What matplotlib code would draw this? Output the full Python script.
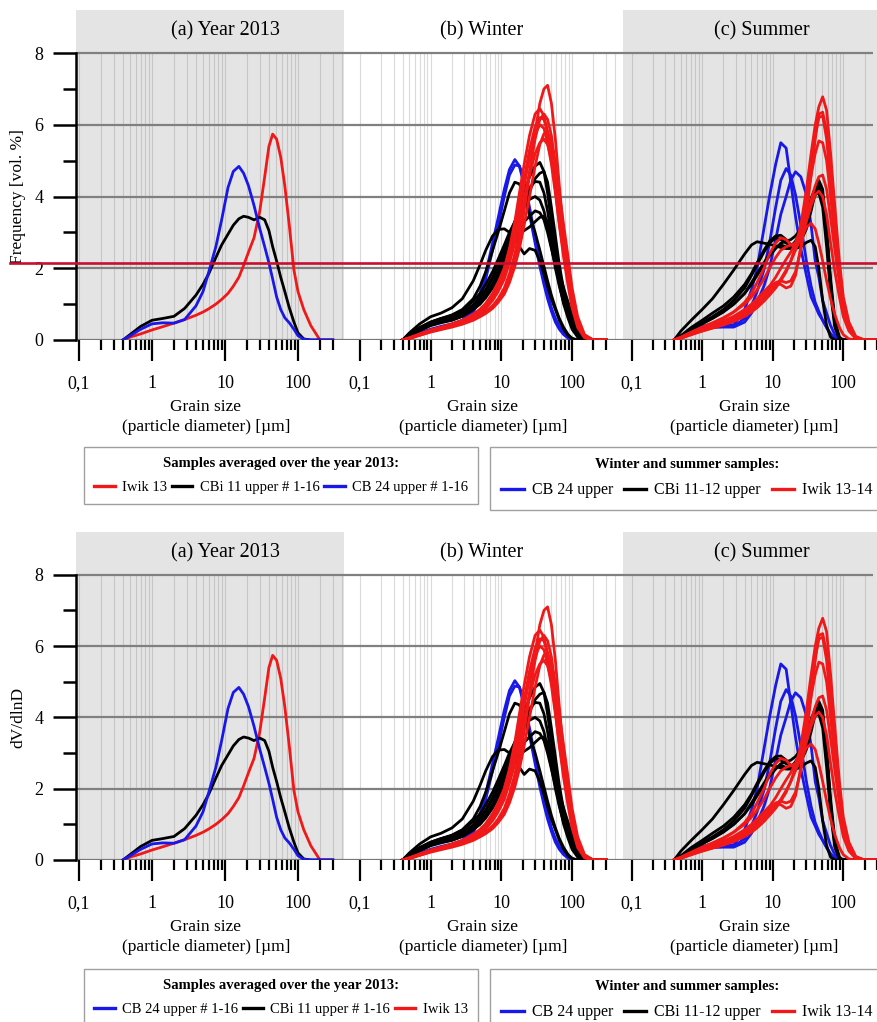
import numpy as np
import matplotlib.pyplot as plt
import matplotlib.transforms as mtransforms
from matplotlib.lines import Line2D
from matplotlib.ticker import NullFormatter

plt.rcParams['font.family'] = ['Liberation Serif', 'DejaVu Serif']

# ---------------- DATA ----------------
# common grain-size grid [µm]
grain = [0.4, 0.5, 0.7, 1, 1.4, 2, 2.8, 4, 5, 6, 7.5, 9, 11, 13, 15.5, 18,
         21, 25, 30, 35, 40, 45, 51, 58, 66, 76, 88, 100, 120, 150, 200, 300]

# (a) year 2013 averages
year_iwik13 = [0.0, 0.08, 0.17, 0.28, 0.37, 0.47, 0.57, 0.69, 0.78, 0.87,
               1.0, 1.13, 1.3, 1.5, 1.75, 2.08, 2.45, 2.85, 3.6, 4.55,
               5.4, 5.74, 5.6, 5.1, 4.3, 3.2, 1.95, 1.35, 0.85, 0.4, 0.0, 0.0]
year_cbi11 = [0.0, 0.15, 0.38, 0.55, 0.6, 0.66, 0.88, 1.25, 1.55, 1.85,
              2.3, 2.65, 2.95, 3.2, 3.38, 3.45, 3.42, 3.35, 3.42, 3.35,
              3.05, 2.6, 2.2, 1.75, 1.35, 0.9, 0.5, 0.2, 0.03, 0.0, 0.0, 0.0]
year_cb24 = [0.0, 0.12, 0.3, 0.45, 0.48, 0.47, 0.57, 0.95, 1.35, 1.9,
             2.6, 3.35, 4.25, 4.7, 4.84, 4.65, 4.3, 3.75, 3.1, 2.6,
             2.15, 1.7, 1.2, 0.85, 0.62, 0.48, 0.3, 0.12, 0.02, 0.0, 0.0, 0.0]

# (b) winter samples
winter_cb24 = [
    [0.0, 0.08, 0.2, 0.3, 0.38, 0.45, 0.55, 0.85, 1.3, 1.85,
     2.7, 3.4, 4.2, 4.75, 5.03, 4.85, 4.3, 3.5, 2.7, 2.05,
     1.55, 1.15, 0.8, 0.5, 0.3, 0.15, 0.05, 0.0, 0.0, 0.0, 0.0, 0.0],
    [0.0, 0.07, 0.18, 0.28, 0.36, 0.43, 0.52, 0.78, 1.15, 1.7,
     2.5, 3.2, 4.0, 4.6, 4.88, 4.85, 4.45, 3.7, 2.9, 2.25,
     1.7, 1.3, 0.9, 0.6, 0.38, 0.2, 0.08, 0.02, 0.0, 0.0, 0.0, 0.0],
]
winter_cbi = [
    [0.0, 0.15, 0.35, 0.5, 0.6, 0.7, 0.85, 1.15, 1.5, 1.9,
     2.5, 3.0, 3.6, 4.1, 4.4, 4.35, 4.0, 3.5, 3.0, 2.5,
     2.05, 1.65, 1.25, 0.9, 0.6, 0.35, 0.15, 0.05, 0.0, 0.0, 0.0, 0.0],
    [0.0, 0.2, 0.45, 0.65, 0.75, 0.9, 1.15, 1.65, 2.1, 2.5,
     2.9, 3.08, 3.1, 3.0, 2.85, 2.6, 2.4, 2.55, 2.5, 2.2,
     1.85, 1.5, 1.15, 0.85, 0.55, 0.3, 0.12, 0.03, 0.0, 0.0, 0.0, 0.0],
    [0.0, 0.12, 0.3, 0.45, 0.52, 0.6, 0.7, 0.9, 1.05, 1.25,
     1.55, 1.85, 2.25, 2.7, 3.2, 3.65, 4.1, 4.55, 4.85, 4.95,
     4.7, 4.1, 3.3, 2.5, 1.8, 1.2, 0.75, 0.45, 0.15, 0.02, 0.0, 0.0],
    [0.0, 0.1, 0.28, 0.42, 0.5, 0.56, 0.66, 0.85, 1.0, 1.18,
     1.45, 1.75, 2.1, 2.5, 2.95, 3.35, 3.75, 4.15, 4.5, 4.65,
     4.7, 4.4, 3.7, 2.9, 2.1, 1.4, 0.9, 0.55, 0.2, 0.03, 0.0, 0.0],
    [0.0, 0.13, 0.32, 0.48, 0.56, 0.64, 0.76, 0.98, 1.18, 1.4,
     1.75, 2.1, 2.5, 2.9, 3.3, 3.65, 3.95, 4.25, 4.42, 4.4,
     4.1, 3.6, 2.9, 2.2, 1.55, 1.0, 0.6, 0.3, 0.08, 0.0, 0.0, 0.0],
    [0.0, 0.14, 0.34, 0.5, 0.6, 0.68, 0.82, 1.08, 1.3, 1.55,
     1.9, 2.25, 2.65, 3.0, 3.3, 3.55, 3.75, 3.92, 4.0, 3.9,
     3.6, 3.15, 2.6, 2.0, 1.5, 1.05, 0.7, 0.45, 0.18, 0.03, 0.0, 0.0],
    [0.0, 0.12, 0.3, 0.44, 0.52, 0.6, 0.72, 0.95, 1.15, 1.38,
     1.7, 2.0, 2.35, 2.7, 2.95, 3.15, 3.3, 3.45, 3.6, 3.55,
     3.35, 3.0, 2.55, 2.1, 1.7, 1.3, 0.95, 0.62, 0.25, 0.05, 0.0, 0.0],
    [0.0, 0.1, 0.26, 0.4, 0.48, 0.55, 0.66, 0.86, 1.05, 1.25,
     1.55, 1.85, 2.2, 2.5, 2.75, 2.95, 3.05, 3.15, 3.3, 3.42,
     3.45, 3.3, 2.9, 2.4, 1.9, 1.45, 1.05, 0.7, 0.3, 0.05, 0.0, 0.0],
]
winter_iwik = [
    [0.0, 0.05, 0.15, 0.25, 0.32, 0.4, 0.48, 0.6, 0.7, 0.8,
     0.95, 1.1, 1.35, 1.7, 2.2, 2.8, 3.6, 4.6, 5.8, 6.6,
     7.0, 7.1, 6.6, 5.6, 4.3, 3.0, 1.9, 1.1, 0.45, 0.1, 0.0, 0.0],
    [0.0, 0.06, 0.16, 0.27, 0.35, 0.43, 0.53, 0.68, 0.82, 0.98,
     1.25, 1.55, 2.0, 2.55, 3.3, 4.1, 4.9, 5.7, 6.3, 6.45,
     6.25, 5.8, 5.1, 4.2, 3.2, 2.3, 1.5, 0.9, 0.35, 0.06, 0.0, 0.0],
    [0.0, 0.05, 0.14, 0.24, 0.31, 0.38, 0.46, 0.58, 0.68, 0.78,
     0.95, 1.15, 1.45, 1.85, 2.4, 3.0, 3.8, 4.7, 5.6, 6.15,
     6.3, 6.15, 5.7, 4.9, 3.9, 2.9, 1.95, 1.2, 0.5, 0.1, 0.0, 0.0],
    [0.0, 0.06, 0.17, 0.28, 0.36, 0.45, 0.55, 0.72, 0.86, 1.02,
     1.3, 1.6, 2.0, 2.5, 3.1, 3.8, 4.5, 5.3, 5.95, 6.2,
     6.15, 5.8, 5.2, 4.4, 3.5, 2.6, 1.75, 1.05, 0.4, 0.08, 0.0, 0.0],
    [0.0, 0.05, 0.15, 0.26, 0.34, 0.42, 0.51, 0.66, 0.8, 0.95,
     1.2, 1.48, 1.85, 2.3, 2.9, 3.55, 4.3, 5.1, 5.75, 6.0,
     5.9, 5.5, 4.9, 4.1, 3.25, 2.45, 1.7, 1.05, 0.42, 0.08, 0.0, 0.0],
    [0.0, 0.04, 0.13, 0.22, 0.29, 0.36, 0.44, 0.55, 0.65, 0.74,
     0.88, 1.05, 1.28, 1.6, 2.05, 2.55, 3.2, 4.0, 4.85, 5.45,
     5.75, 5.8, 5.5, 4.9, 4.1, 3.2, 2.3, 1.45, 0.65, 0.15, 0.0, 0.0],
    [0.0, 0.05, 0.14, 0.24, 0.31, 0.39, 0.48, 0.62, 0.75, 0.88,
     1.1, 1.35, 1.7, 2.15, 2.7, 3.3, 3.95, 4.6, 5.2, 5.5,
     5.6, 5.45, 5.05, 4.4, 3.6, 2.75, 1.95, 1.25, 0.55, 0.12, 0.0, 0.0],
]

# (c) summer samples
summer_cb24 = [
    [0.0, 0.1, 0.25, 0.38, 0.45, 0.45, 0.42, 0.85, 1.4, 2.0,
     3.1, 4.0, 4.9, 5.5, 5.35, 4.4, 3.45, 2.55, 1.8, 1.2,
     0.95, 0.72, 0.55, 0.35, 0.18, 0.05, 0.0, 0.0, 0.0, 0.0, 0.0, 0.0],
    [0.0, 0.09, 0.22, 0.34, 0.4, 0.4, 0.38, 0.6, 0.95, 1.35,
     1.95, 2.7, 3.7, 4.45, 4.78, 4.6, 4.05, 3.2, 2.2, 1.5,
     1.05, 0.8, 0.55, 0.35, 0.15, 0.03, 0.0, 0.0, 0.0, 0.0, 0.0, 0.0],
    [0.0, 0.08, 0.2, 0.3, 0.35, 0.36, 0.36, 0.5, 0.75, 1.05,
     1.5, 2.0, 2.8, 3.5, 4.0, 4.45, 4.69, 4.55, 4.05, 3.2,
     2.2, 1.75, 1.1, 0.75, 0.4, 0.15, 0.02, 0.0, 0.0, 0.0, 0.0, 0.0],
]
summer_cbi = [
    [0.0, 0.25, 0.55, 0.85, 1.15, 1.55, 1.95, 2.4, 2.65, 2.74,
     2.7, 2.67, 2.62, 2.58, 2.55, 2.55, 2.55, 2.6, 2.72, 2.78,
     2.6, 2.0, 1.1, 0.4, 0.08, 0.0, 0.0, 0.0, 0.0, 0.0, 0.0, 0.0],
    [0.0, 0.12, 0.35, 0.55, 0.75, 0.95, 1.2, 1.55, 1.85, 2.15,
     2.5, 2.75, 2.9, 2.92, 2.8, 2.65, 2.6, 2.75, 3.1, 3.6,
     4.1, 4.45, 4.2, 3.0, 1.5, 0.4, 0.05, 0.0, 0.0, 0.0, 0.0, 0.0],
    [0.0, 0.1, 0.3, 0.48, 0.65, 0.85, 1.1, 1.45, 1.8, 2.1,
     2.45, 2.7, 2.85, 2.8, 2.7, 2.65, 2.7, 2.95, 3.35, 3.8,
     4.1, 4.2, 4.0, 3.1, 1.7, 0.55, 0.08, 0.0, 0.0, 0.0, 0.0, 0.0],
    [0.0, 0.1, 0.28, 0.45, 0.6, 0.78, 1.0, 1.3, 1.6, 1.85,
     2.15, 2.4, 2.6, 2.65, 2.6, 2.6, 2.75, 3.0, 3.4, 3.8,
     4.05, 4.1, 3.7, 2.6, 1.3, 0.35, 0.03, 0.0, 0.0, 0.0, 0.0, 0.0],
    [0.0, 0.11, 0.3, 0.46, 0.62, 0.8, 1.0, 1.3, 1.55, 1.8,
     2.1, 2.35, 2.55, 2.7, 2.75, 2.8, 2.9, 3.1, 3.5, 3.95,
     4.25, 4.3, 4.0, 3.0, 1.6, 0.45, 0.05, 0.0, 0.0, 0.0, 0.0, 0.0],
]
summer_iwik = [
    [0.0, 0.05, 0.15, 0.25, 0.33, 0.42, 0.52, 0.66, 0.78, 0.9,
     1.08, 1.25, 1.45, 1.65, 1.9, 2.2, 2.6, 3.2, 4.2, 5.2,
     6.0, 6.5, 6.78, 6.4, 5.2, 3.7, 2.2, 1.2, 0.5, 0.1, 0.0, 0.0],
    [0.0, 0.06, 0.17, 0.28, 0.37, 0.47, 0.58, 0.74, 0.88, 1.0,
     1.2, 1.4, 1.6, 1.65, 1.6, 1.65, 1.9, 2.5, 3.5, 4.6,
     5.6, 6.3, 6.35, 5.8, 4.6, 3.2, 1.9, 1.0, 0.4, 0.08, 0.0, 0.0],
    [0.0, 0.07, 0.2, 0.32, 0.42, 0.53, 0.66, 0.85, 1.0, 1.15,
     1.35, 1.5, 1.58, 1.55, 1.45, 1.5, 1.8, 2.6, 3.7, 4.8,
     5.7, 6.2, 6.25, 5.6, 4.4, 3.0, 1.75, 0.95, 0.38, 0.07, 0.0, 0.0],
    [0.0, 0.06, 0.18, 0.3, 0.4, 0.5, 0.62, 0.8, 0.95, 1.1,
     1.3, 1.5, 1.75, 2.0, 2.25, 2.45, 2.7, 3.1, 3.8, 4.6,
     5.2, 5.55, 5.5, 5.0, 4.0, 2.85, 1.75, 0.95, 0.38, 0.07, 0.0, 0.0],
    [0.0, 0.05, 0.15, 0.25, 0.34, 0.43, 0.53, 0.68, 0.8, 0.92,
     1.1, 1.3, 1.5, 1.7, 1.95, 2.2, 2.5, 2.9, 3.4, 3.9,
     4.3, 4.55, 4.6, 4.2, 3.4, 2.5, 1.6, 0.9, 0.35, 0.06, 0.0, 0.0],
    [0.0, 0.08, 0.22, 0.36, 0.48, 0.62, 0.78, 1.0, 1.2, 1.4,
     1.7, 2.0, 2.3, 2.5, 2.6, 2.65, 2.7, 2.9, 3.3, 3.75,
     4.05, 4.15, 4.0, 3.5, 2.7, 1.9, 1.2, 0.65, 0.25, 0.04, 0.0, 0.0],
    [0.0, 0.07, 0.2, 0.33, 0.45, 0.6, 0.78, 1.05, 1.3, 1.6,
     2.0, 2.4, 2.7, 2.85, 2.8, 2.65, 2.6, 2.8, 3.15, 3.25,
     3.1, 2.7, 2.2, 1.65, 1.15, 0.7, 0.35, 0.15, 0.03, 0.0, 0.0, 0.0],
]

panel_titles = ["(a) Year 2013", "(b) Winter", "(c) Summer"]
major_ticks = [0.1, 1, 10, 100]
major_labels = ["0,1", "1", "10", "100"]
ref_level = 2.14   # horizontal marker line in the upper chart

# ---------------- STYLE ----------------
RED, BLUE, BLACK = '#f01818', '#1818e8', 'black'
W, H = 877, 1022
panel_px = [(76, 344), (344, 622.7), (622.7, 877)]
panel_xlim = [(0.091, 427), (0.0594, 520), (0.0749, 264)]
panel_bg = ['#e4e4e4', 'white', '#e4e4e4']
vline_col = ['#c6c6c6', '#dadada', '#c6c6c6']
title_x = [0.556, 0.494, 0.547]
YTOP = 9.2

minor_ticks = [n * 10.0 ** k for k in range(-1, 3) for n in range(2, 10)
               if n * 10.0 ** k <= 300]
vgrid = [n * 10.0 ** k for k in range(-1, 3) for n in range(1, 10)
         if n * 10.0 ** k <= 400]

fig = plt.figure(figsize=(W / 100, H / 100), dpi=100)


def fx(px):
    return px / W


def fy(py):
    return 1 - py / H


def draw_chart(top_px, zero_px, ylabel, year_order):
    axes = []
    for i in range(3):
        x0, x1 = panel_px[i]
        xlim = panel_xlim[i]
        ax = fig.add_axes([fx(x0), fy(zero_px), (x1 - x0) / W, (zero_px - top_px) / H])
        ax.set_xscale('log')
        ax.set_xlim(*xlim)
        ax.set_ylim(0, YTOP)
        ax.set_facecolor(panel_bg[i])
        for s in ax.spines.values():
            s.set_visible(False)

        ax.vlines([v for v in vgrid if xlim[0] <= v <= xlim[1]], 0, 8,
                  color=vline_col[i], lw=0.8, zorder=0)
        ax.hlines([2, 4, 6, 8], xlim[0], xlim[1], color='#808080', lw=1.6, zorder=1)
        ax.hlines(0, xlim[0], xlim[1], color='#777777', lw=1.6, zorder=1)

        ax.set_xticks(major_ticks)
        ax.set_xticklabels(major_labels)
        ax.set_xticks(minor_ticks, minor=True)
        ax.xaxis.set_minor_formatter(NullFormatter())
        ax.tick_params(axis='x', which='major', direction='out', length=15,
                       width=1.6, pad=10, labelsize=13)
        ax.tick_params(axis='x', which='minor', direction='out', length=7, width=1.6)

        trans = mtransforms.blended_transform_factory(ax.transAxes, ax.transData)
        ax.text(title_x[i], 8.62, panel_titles[i], transform=trans,
                ha='center', va='center', fontsize=14.5)
        ax.text(5.48, -1.87, "Grain size", ha='center', va='center',
                fontsize=12.5, clip_on=False)
        ax.text(5.48, -2.43, "(particle diameter) [µm]", ha='center',
                va='center', fontsize=12.5, clip_on=False)

        if i == 0:
            ax.spines['left'].set_visible(True)
            ax.spines['left'].set_bounds(0, 8)
            ax.spines['left'].set_linewidth(1.8)
            ax.set_yticks([0, 2, 4, 6, 8])
            ax.set_yticks([1, 3, 5, 7], minor=True)
            ax.tick_params(axis='y', which='major', length=16.5, width=1.8,
                           pad=7, labelsize=13)
            ax.tick_params(axis='y', which='minor', length=9.5, width=1.8)
        else:
            ax.set_yticks([])
        axes.append(ax)

    ax_a, ax_b, ax_c = axes
    # (a) year averages
    for name in year_order:
        ax_a.plot(grain, year_series[name][0], color=year_series[name][1], lw=2.0, zorder=3)
    # (b) winter, (c) summer
    for ax, groups in ((ax_b, (winter_cb24, winter_cbi, winter_iwik)),
                       (ax_c, (summer_cb24, summer_cbi, summer_iwik))):
        for curves, col in zip(groups, (BLUE, BLACK, RED)):
            for c in curves:
                ax.plot(grain, c, color=col, lw=2.0, zorder=3)

    fig.text(fx(18), fy((zero_px + zero_px - 8 * (zero_px - top_px) / YTOP) / 2),
             ylabel, rotation=90, ha='center', va='center', fontsize=12.5)
    return ax_a


def add_legend(title, labels, colors, left_px, top_px, width_px, size):
    handles = [Line2D([], [], color=c, lw=2.4) for c in colors]
    leg = fig.legend(handles, labels, title=title, ncol=3, loc='upper left',
                     bbox_to_anchor=(fx(left_px), fy(top_px), width_px / W, 0),
                     mode='expand', borderaxespad=0, fontsize=size,
                     title_fontproperties={'weight': 'bold', 'size': 10.5},
                     handlelength=1.4, handletextpad=0.5, columnspacing=0.6,
                     fancybox=False, framealpha=1, edgecolor='#a0a0a0',
                     borderpad=0.7, labelspacing=0.7)
    leg.get_frame().set_linewidth(1.0)
    return leg


year_series = {
    "Iwik 13": (year_iwik13, RED),
    "CBi 11 upper # 1-16": (year_cbi11, BLACK),
    "CB 24 upper # 1-16": (year_cb24, BLUE),
}
season_labels = ["CB 24 upper", "CBi 11-12 upper", "Iwik 13-14"]

# ---------- upper chart ----------
ax_top = draw_chart(10, 340, "Frequency [vol. %]",
                    ["Iwik 13", "CBi 11 upper # 1-16", "CB 24 upper # 1-16"])
crimson = Line2D([fx(10), 1.0], [ref_level, ref_level], color='#c8102e', lw=1.9,
                 transform=mtransforms.blended_transform_factory(fig.transFigure, ax_top.transData),
                 zorder=10)
fig.add_artist(crimson)
top_order = ["Iwik 13", "CBi 11 upper # 1-16", "CB 24 upper # 1-16"]
add_legend("Samples averaged over the year 2013:", top_order,
           [year_series[k][1] for k in top_order], 84, 447, 394, 10.5)
add_legend("Winter and summer samples:", season_labels, [BLUE, BLACK, RED],
           490, 447, 394, 11.5)

# ---------- lower chart ----------
bot_order = ["CB 24 upper # 1-16", "CBi 11 upper # 1-16", "Iwik 13"]
draw_chart(532, 860, "dV/dlnD", ["Iwik 13", "CBi 11 upper # 1-16", "CB 24 upper # 1-16"])
add_legend("Samples averaged over the year 2013:", bot_order,
           [year_series[k][1] for k in bot_order], 84, 969, 394, 10.5)
add_legend("Winter and summer samples:", season_labels, [BLUE, BLACK, RED],
           490, 969, 394, 11.5)

fig.savefig("out.png", dpi=100)
